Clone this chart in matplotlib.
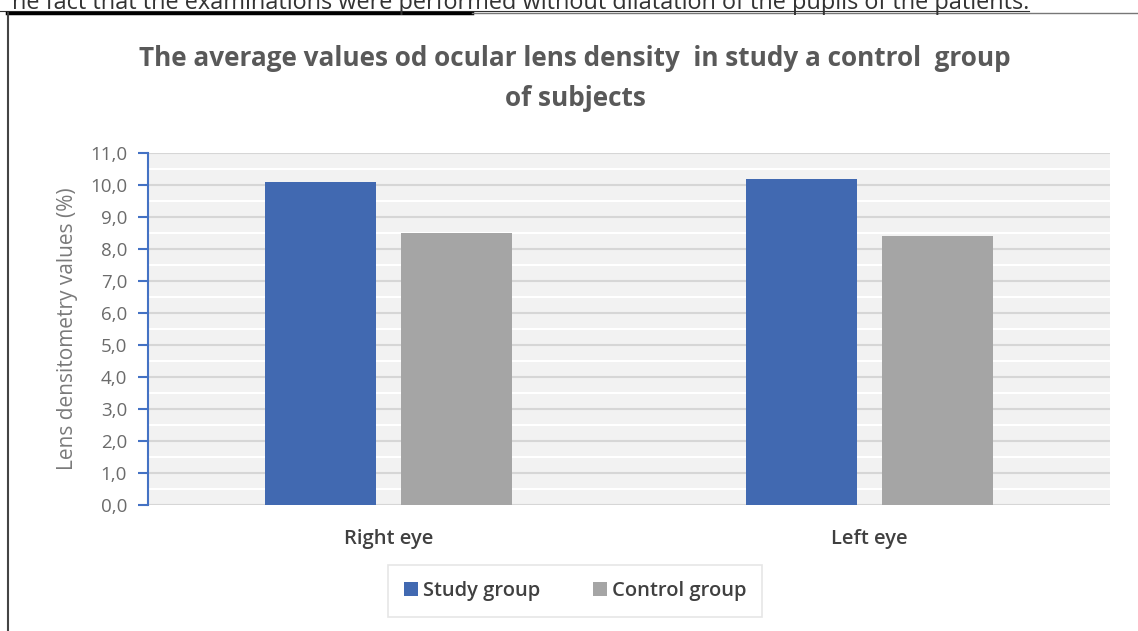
import numpy as np
import matplotlib.pyplot as plt
from matplotlib.lines import Line2D

# data
categories = ["Right eye", "Left eye"]
study_group = [10.1, 10.2]
control_group = [8.5, 8.4]
y_ticks = np.arange(0, 11.5, 1.0)

fig = plt.figure(figsize=(11.38, 6.31), dpi=100)
plt.rcParams['font.family'] = ['Open Sans', 'DejaVu Sans']

# text of the page above the chart (cut off at top)
fig.text(1029 / 1138, 1 - 9 / 631,
         "he fact that the examinations were performed without dilatation of the pupils of the patients.",
         ha='right', va='baseline', fontsize=16.9, color='#333333')
fig.add_artist(Line2D([0, 1029 / 1138], [1 - 11 / 631] * 2, color='#333333', lw=0.8))

# frame of the chart
fig.add_artist(Line2D([7 / 1138, 472 / 1138], [1 - 13 / 631] * 2, color='black', lw=2.5))
fig.add_artist(Line2D([472 / 1138, 1], [1 - 12.5 / 631] * 2, color='#777777', lw=1))
fig.add_artist(Line2D([8 / 1138, 8 / 1138], [0, 1 - 13 / 631], color='#444444', lw=1.5))

ax = fig.add_axes([148 / 1138, 126 / 631, 962 / 1138, 352 / 631])
ax.set_facecolor('#f2f2f2')

x = np.arange(len(categories))
w = 0.229
gap = 0.054
ax.bar(x - (w + gap) / 2, study_group, w, color='#4169b1', label='Study group', zorder=3)
ax.bar(x + (w + gap) / 2, control_group, w, color='#a5a5a5', label='Control group', zorder=3)

ax.set_xlim(-0.5, 1.5)
ax.set_ylim(0, 11)
ax.set_yticks(y_ticks)
ax.set_yticklabels([f"{v:.1f}".replace('.', ',') for v in y_ticks])
for v in y_ticks:
    ax.axhline(v, color='#d6d6d6', lw=1.5, zorder=1)
    if v < 11:
        ax.axhline(v + 0.5, color='white', lw=1.5, zorder=1)

for s in ['top', 'right', 'bottom']:
    ax.spines[s].set_visible(False)
ax.spines['left'].set_color('#4472c4')
ax.spines['left'].set_linewidth(1.5)
ax.tick_params(axis='y', colors='#4472c4', length=7, width=1.5, pad=8,
               labelcolor='#6b6b6b', labelsize=13.5)
ax.tick_params(axis='x', length=0, pad=17)
ax.set_xticks(x)
ax.set_xticklabels(categories, fontsize=14.5, fontweight='semibold', color='#404040')

ax.set_ylabel("Lens densitometry values (%)", fontsize=15, color='#7a7a7a', labelpad=9)

fig.text(575 / 1138, 1 - 58 / 631,
         "The average values od ocular lens density  in study a control  group",
         ha='center', va='center', fontsize=18.8, fontweight='bold', color='#595959')
fig.text(575 / 1138, 1 - 98 / 631, "of subjects",
         ha='center', va='center', fontsize=18.8, fontweight='bold', color='#595959')

leg = fig.legend(loc='center', bbox_to_anchor=(575 / 1138, 1 - 591 / 631), ncol=2,
                 fontsize=14.5, frameon=True, fancybox=False, edgecolor='#e0e0e0',
                 handlelength=0.7, handleheight=0.7, handletextpad=0.25, columnspacing=2.6,
                 borderpad=0.8, borderaxespad=0)
leg.get_frame().set_linewidth(1.2)
for t in leg.get_texts():
    t.set_color('#404040')
    t.set_fontweight('semibold')

fig.savefig("out.png", dpi=100)
